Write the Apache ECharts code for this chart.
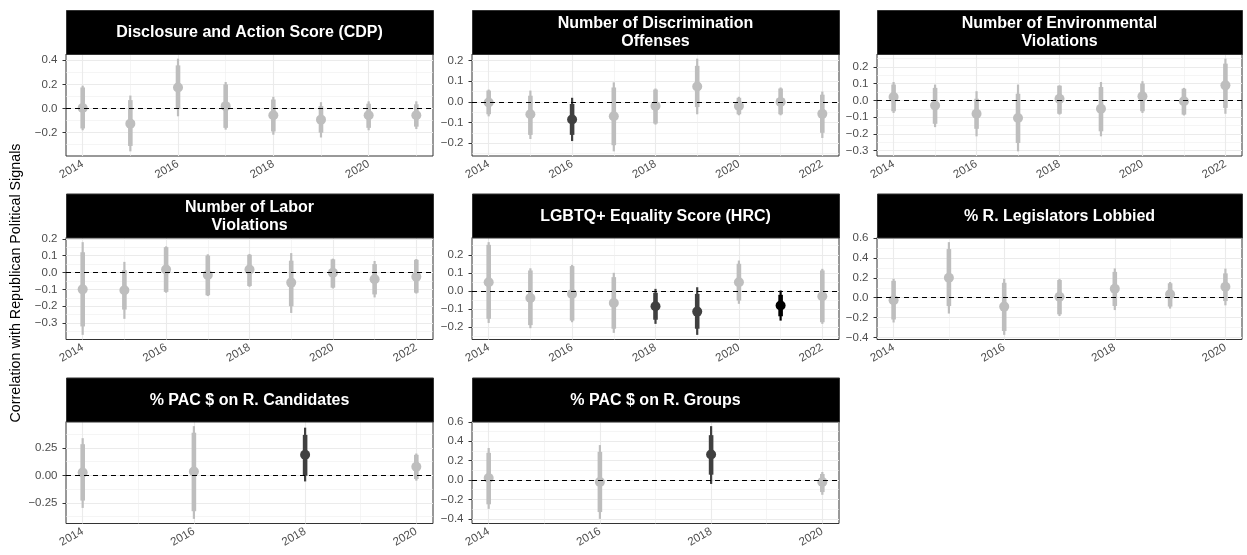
<!DOCTYPE html>
<html><head><meta charset="utf-8">
<script src="https://cdn.jsdelivr.net/npm/echarts@6/dist/echarts.min.js"></script>
<style>html,body{margin:0;padding:0;background:#fff}#c{width:1247px;height:555px}</style>
</head><body><div id="c"></div>
<script>
// ---------- DATA ----------
const panelTitles = [
  'Disclosure and Action Score (CDP)',
  'Number of Discrimination\nOffenses',
  'Number of Environmental\nViolations',
  'Number of Labor\nViolations',
  'LGBTQ+ Equality Score (HRC)',
  '% R. Legislators Lobbied',
  '% PAC $ on R. Candidates',
  '% PAC $ on R. Groups'
];
const yAxisTitle = 'Correlation with Republican Political Signals';
// colour class: 0 = grey, 1 = dark grey, 2 = black
const sigColors = ['#BEBEBE', '#404040', '#000000'];

// Panel 1: CDP
const cdpYears   = [2014, 2015, 2016, 2017, 2018, 2019, 2020, 2021];
const cdpEst     = [0.005, -0.125, 0.175, 0.02, -0.056, -0.092, -0.056, -0.056];
const cdpOuterLo = [-0.18, -0.355, -0.064, -0.175, -0.217, -0.24, -0.18, -0.17];
const cdpOuterHi = [0.19, 0.108, 0.414, 0.22, 0.097, 0.053, 0.06, 0.06];
const cdpInnerLo = [-0.165, -0.31, 0.0, -0.16, -0.19, -0.2, -0.16, -0.15];
const cdpInnerHi = [0.175, 0.07, 0.358, 0.2, 0.075, 0.02, 0.04, 0.035];
const cdpSig     = [0, 0, 0, 0, 0, 0, 0, 0];

// Panel 2: Discrimination
const discYears   = [2014, 2015, 2016, 2017, 2018, 2019, 2020, 2021, 2022];
const discEst     = [-0.003, -0.06, -0.085, -0.07, -0.02, 0.075, -0.02, 0.0, -0.058];
const discOuterLo = [-0.07, -0.18, -0.19, -0.24, -0.11, -0.06, -0.065, -0.065, -0.175];
const discOuterHi = [0.06, 0.055, 0.02, 0.095, 0.065, 0.21, 0.025, 0.07, 0.05];
const discInnerLo = [-0.06, -0.16, -0.16, -0.21, -0.105, -0.025, -0.06, -0.06, -0.15];
const discInnerHi = [0.055, 0.03, -0.01, 0.07, 0.06, 0.175, 0.02, 0.065, 0.035];
const discSig     = [0, 0, 1, 0, 0, 0, 0, 0, 0];

// Panel 3: Environmental
const envYears   = [2014, 2015, 2016, 2017, 2018, 2019, 2020, 2021, 2022];
const envEst     = [0.02, -0.03, -0.08, -0.105, 0.01, -0.05, 0.025, -0.005, 0.09];
const envOuterLo = [-0.075, -0.16, -0.215, -0.305, -0.085, -0.215, -0.075, -0.09, -0.08];
const envOuterHi = [0.11, 0.095, 0.055, 0.095, 0.09, 0.11, 0.115, 0.075, 0.25];
const envInnerLo = [-0.065, -0.14, -0.17, -0.255, -0.08, -0.185, -0.065, -0.085, -0.045];
const envInnerHi = [0.095, 0.075, 0.01, 0.04, 0.088, 0.08, 0.1, 0.07, 0.22];
const envSig     = [0, 0, 0, 0, 0, 0, 0, 0, 0];

// Panel 4: Labor
const labYears   = [2014, 2015, 2016, 2017, 2018, 2019, 2020, 2021, 2022];
const labEst     = [-0.1, -0.105, 0.018, -0.015, 0.018, -0.06, -0.002, -0.04, -0.025];
const labOuterLo = [-0.37, -0.275, -0.12, -0.14, -0.085, -0.24, -0.095, -0.148, -0.125];
const labOuterHi = [0.18, 0.063, 0.155, 0.108, 0.11, 0.115, 0.082, 0.068, 0.08];
const labInnerLo = [-0.32, -0.22, -0.115, -0.135, -0.08, -0.2, -0.09, -0.13, -0.12];
const labInnerHi = [0.12, 0.014, 0.15, 0.1, 0.105, 0.07, 0.078, 0.05, 0.075];
const labSig     = [0, 0, 0, 0, 0, 0, 0, 0, 0];

// Panel 5: LGBTQ+
const hrcYears   = [2014, 2015, 2016, 2017, 2018, 2019, 2020, 2021, 2022];
const hrcEst     = [0.048, -0.04, -0.017, -0.067, -0.085, -0.115, 0.048, -0.081, -0.03];
const hrcOuterLo = [-0.178, -0.207, -0.174, -0.233, -0.183, -0.244, -0.072, -0.165, -0.183];
const hrcOuterHi = [0.27, 0.125, 0.144, 0.1, 0.011, 0.02, 0.168, 0.002, 0.122];
const hrcInnerLo = [-0.155, -0.19, -0.165, -0.21, -0.16, -0.21, -0.054, -0.141, -0.174];
const hrcInnerHi = [0.255, 0.113, 0.137, 0.076, -0.011, -0.017, 0.15, -0.022, 0.113];
const hrcSig     = [0, 0, 0, 0, 1, 1, 0, 2, 0];

// Panel 6: % R. Legislators Lobbied
const lobYears   = [2014, 2015, 2016, 2017, 2018, 2019, 2020];
const lobEst     = [-0.025, 0.2, -0.09, 0.01, 0.09, 0.034, 0.11];
const lobOuterLo = [-0.25, -0.16, -0.375, -0.185, -0.125, -0.11, -0.077];
const lobOuterHi = [0.19, 0.56, 0.19, 0.19, 0.295, 0.158, 0.293];
const lobInnerLo = [-0.22, -0.085, -0.336, -0.168, -0.084, -0.09, -0.034];
const lobInnerHi = [0.17, 0.49, 0.15, 0.178, 0.26, 0.145, 0.245];
const lobSig     = [0, 0, 0, 0, 0, 0, 0];

// Panel 7: % PAC $ on R. Candidates
const candYears   = [2014, 2016, 2018, 2020];
const candEst     = [0.027, 0.036, 0.188, 0.079];
const candOuterLo = [-0.297, -0.397, -0.055, -0.048];
const candOuterHi = [0.34, 0.45, 0.436, 0.2];
const candInnerLo = [-0.23, -0.327, -0.003, -0.033];
const candInnerHi = [0.285, 0.39, 0.37, 0.188];
const candSig     = [0, 0, 1, 0];

// Panel 8: % PAC $ on R. Groups
const grpYears   = [2014, 2016, 2018, 2020];
const grpEst     = [0.02, -0.02, 0.262, -0.02];
const grpOuterLo = [-0.297, -0.4, -0.04, -0.152];
const grpOuterHi = [0.33, 0.36, 0.555, 0.083];
const grpInnerLo = [-0.25, -0.33, 0.055, -0.124];
const grpInnerHi = [0.28, 0.29, 0.462, 0.062];
const grpSig     = [0, 0, 1, 0];

// Tick values (major / minor) per panel
const yMajor = [
  [-0.2, 0, 0.2, 0.4],
  [-0.2, -0.1, 0, 0.1, 0.2],
  [-0.3, -0.2, -0.1, 0, 0.1, 0.2],
  [-0.3, -0.2, -0.1, 0, 0.1, 0.2],
  [-0.2, -0.1, 0, 0.1, 0.2],
  [-0.4, -0.2, 0, 0.2, 0.4, 0.6],
  [-0.25, 0, 0.25],
  [-0.4, -0.2, 0, 0.2, 0.4, 0.6]
];
const yMinor = [
  [-0.3, -0.1, 0.1, 0.3],
  [-0.25, -0.15, -0.05, 0.05, 0.15],
  [-0.25, -0.15, -0.05, 0.05, 0.15, 0.25],
  [-0.35, -0.25, -0.15, -0.05, 0.05, 0.15],
  [-0.25, -0.15, -0.05, 0.05, 0.15, 0.25],
  [-0.3, -0.1, 0.1, 0.3, 0.5],
  [-0.375, -0.125, 0.125, 0.375],
  [-0.3, -0.1, 0.1, 0.3, 0.5]
];
const xMajor = [
  [2014, 2016, 2018, 2020],
  [2014, 2016, 2018, 2020, 2022],
  [2014, 2016, 2018, 2020, 2022],
  [2014, 2016, 2018, 2020, 2022],
  [2014, 2016, 2018, 2020, 2022],
  [2014, 2016, 2018, 2020],
  [2014, 2016, 2018, 2020],
  [2014, 2016, 2018, 2020]
];
const xMinor = [
  [2015, 2017, 2019, 2021],
  [2015, 2017, 2019, 2021],
  [2015, 2017, 2019, 2021],
  [2015, 2017, 2019, 2021],
  [2015, 2017, 2019, 2021],
  [2015, 2017, 2019],
  [2015, 2017, 2019],
  [2015, 2017, 2019]
];

const panels = [
  [cdpYears, cdpEst, cdpOuterLo, cdpOuterHi, cdpInnerLo, cdpInnerHi, cdpSig],
  [discYears, discEst, discOuterLo, discOuterHi, discInnerLo, discInnerHi, discSig],
  [envYears, envEst, envOuterLo, envOuterHi, envInnerLo, envInnerHi, envSig],
  [labYears, labEst, labOuterLo, labOuterHi, labInnerLo, labInnerHi, labSig],
  [hrcYears, hrcEst, hrcOuterLo, hrcOuterHi, hrcInnerLo, hrcInnerHi, hrcSig],
  [lobYears, lobEst, lobOuterLo, lobOuterHi, lobInnerLo, lobInnerHi, lobSig],
  [candYears, candEst, candOuterLo, candOuterHi, candInnerLo, candInnerHi, candSig],
  [grpYears, grpEst, grpOuterLo, grpOuterHi, grpInnerLo, grpInnerHi, grpSig]
];

// ---------- LAYOUT ----------
const colLeft = [66, 472, 877];
const colWidth = [367, 367, 365];
const stripTop = [10, 193.5, 377.5];
const stripH = 44;
const plotH = 102;
const FONT = '"Liberation Sans", Arial, Helvetica, sans-serif';

const grids = [], xAxes = [], yAxes = [], series = [], graphics = [];

panels.forEach((p, i) => {
  const [years, est, oLo, oHi, iLo, iHi, sig] = p;
  const row = Math.floor(i / 3), col = i % 3;
  const left = colLeft[col], width = colWidth[col];
  const top = stripTop[row] + stripH;
  grids.push({left: left, top: top, width: width, height: plotH, show: true,
    borderColor: '#333333', borderWidth: 1, backgroundColor: 'transparent', containLabel: false});

  const yLo = Math.min(...oLo), yHi = Math.max(...oHi), yPad = 0.05 * (yHi - yLo);
  const xLo = Math.min(...years), xHi = Math.max(...years), xPad = 0.05 * (xHi - xLo);
  const yMin = yLo - yPad, yMax = yHi + yPad, xMin = xLo - xPad, xMax = xHi + xPad;
  const decimals = yMajor[i].some(v => Math.abs(v * 10 - Math.round(v * 10)) > 1e-9) ? 2 : 1;

  xAxes.push({type: 'value', gridIndex: i, min: xMin, max: xMax, position: 'bottom',
    axisLine: {show: false},
    axisTick: {show: true, length: 3.5, lineStyle: {color: '#333333', width: 1}, customValues: xMajor[i]},
    axisLabel: {show: true, customValues: xMajor[i], rotate: 30, margin: 7, color: '#4D4D4D',
      fontSize: 11.5, fontFamily: FONT, formatter: v => String(Math.round(v))},
    splitLine: {show: true, lineStyle: {color: '#EBEBEB', width: 1.1}}
  });
  xAxes.push({type: 'value', gridIndex: i, min: xMin, max: xMax, position: 'bottom',
    axisLine: {show: false},
    axisTick: {show: false, customValues: xMinor[i]},
    axisLabel: {show: false, customValues: xMinor[i]},
    splitLine: {show: true, lineStyle: {color: '#EFEFEF', width: 0.6}}
  });
  yAxes.push({type: 'value', gridIndex: i, min: yMin, max: yMax, position: 'left',
    axisLine: {show: false},
    axisTick: {show: true, length: 3.5, lineStyle: {color: '#333333', width: 1}, customValues: yMajor[i]},
    axisLabel: {show: true, customValues: yMajor[i], margin: 8.5, color: '#4D4D4D', fontSize: 11.5, fontFamily: FONT,
      formatter: v => (v < -1e-9 ? '\u2212' : '') + Math.abs(v).toFixed(decimals)},
    splitLine: {show: true, lineStyle: {color: '#EBEBEB', width: 1.1}}
  });
  yAxes.push({type: 'value', gridIndex: i, min: yMin, max: yMax, position: 'left',
    axisLine: {show: false},
    axisTick: {show: false, customValues: yMinor[i]},
    axisLabel: {show: false, customValues: yMinor[i]},
    splitLine: {show: true, lineStyle: {color: '#EFEFEF', width: 0.6}}
  });
  const xi = i * 2, yi = i * 2;

  series.push({type: 'line', xAxisIndex: xi, yAxisIndex: yi, data: [], z: 2, silent: true,
    markLine: {silent: true, symbol: ['none', 'none'], label: {show: false}, animation: false,
      lineStyle: {color: '#000000', type: [5, 4], width: 1.1},
      data: [{yAxis: 0}]}
  });

  const data = years.map((y, k) => [y, est[k], oLo[k], oHi[k], iLo[k], iHi[k], sig[k]]);
  series.push({type: 'custom', xAxisIndex: xi, yAxisIndex: yi, z: 3, animation: false,
    encode: {x: 0, y: [1, 2, 3, 4, 5]},
    data: data,
    renderItem: function (params, api) {
      const x = api.value(0);
      const c = api.coord([x, api.value(1)]);
      const a = api.coord([x, api.value(2)]), b = api.coord([x, api.value(3)]);
      const d = api.coord([x, api.value(4)]), e = api.coord([x, api.value(5)]);
      const color = sigColors[api.value(6)];
      return {type: 'group', children: [
        {type: 'line', shape: {x1: a[0], y1: a[1], x2: b[0], y2: b[1]}, style: {stroke: color, lineWidth: 2.2}},
        {type: 'line', shape: {x1: d[0], y1: d[1], x2: e[0], y2: e[1]}, style: {stroke: color, lineWidth: 4.6}},
        {type: 'circle', shape: {cx: c[0], cy: c[1], r: 5}, style: {fill: color}}
      ]};
    }
  });

  graphics.push({type: 'rect', left: left, top: stripTop[row], z: 10,
    shape: {width: width, height: stripH}, style: {fill: '#000000', stroke: '#333333', lineWidth: 1}});
  graphics.push({type: 'text', z: 11, x: left + width / 2, y: stripTop[row] + stripH / 2 + 1,
    style: {text: panelTitles[i], fill: '#FFFFFF', font: 'bold 16px ' + FONT, align: 'center',
      verticalAlign: 'middle', lineHeight: 18}});
});

graphics.push({type: 'text', x: 16, y: 283, rotation: Math.PI / 2, z: 11,
  style: {text: yAxisTitle, fill: '#000000', font: '14.3px ' + FONT, align: 'center', verticalAlign: 'middle'}});

const chart = echarts.init(document.getElementById('c'), null, {renderer: 'canvas'});
chart.setOption({
  animation: false,
  backgroundColor: '#FFFFFF',
  grid: grids, xAxis: xAxes, yAxis: yAxes, series: series, graphic: graphics
});
</script>
</body></html>
